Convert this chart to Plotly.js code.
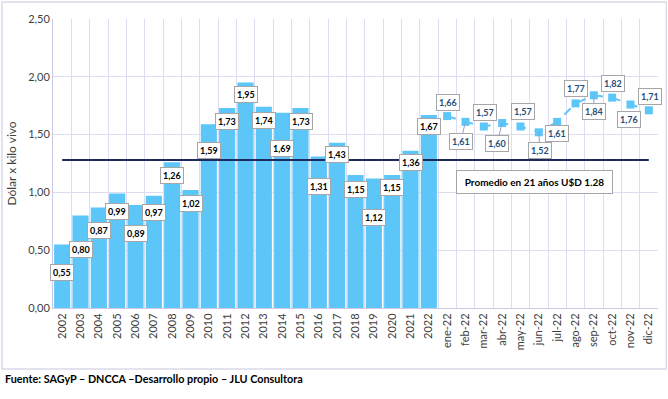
<!DOCTYPE html>
<html>
<head>
<meta charset="utf-8">
<script src="https://cdn.plot.ly/plotly-3.0.1.min.js"></script>
<style>html,body{margin:0;padding:0;background:#fff;}#chart{width:668px;height:399px;}</style>
</head>
<body>
<div id="chart"></div>
<script>
// ---- data ----
const years = ['2002','2003','2004','2005','2006','2007','2008','2009','2010','2011','2012','2013','2014','2015','2016','2017','2018','2019','2020','2021','2022'];
const yearValues = [0.55,0.80,0.87,0.99,0.89,0.97,1.26,1.02,1.59,1.73,1.95,1.74,1.69,1.73,1.31,1.43,1.15,1.12,1.15,1.36,1.67];
const months = ['ene-22','feb-22','mar-22','abr-22','may-22','jun-22','jul-22','ago-22','sep-22','oct-22','nov-22','dic-22'];
const monthValues = [1.66,1.61,1.57,1.60,1.57,1.52,1.61,1.77,1.84,1.82,1.76,1.71];
const average = 1.28;
const averageLabel = 'Promedio en 21 años U$D 1.28';
const yAxisTitle = 'Dólar x kilo vivo';
const sourceText = 'Fuente: SAGyP – DNCCA –Desarrollo propio – JLU Consultora';

// ---- label placement (pixels, positive = down) ----
const barLabelDy = [28,34,23,18,28,17,13,13,26,13,12,14,36,13,30,12,14,39,12,12,12];
const monthLabelDx = [1,-5,1,-5,2,1,0,0,0,1,-2,1];
const monthLabelDy = [-14,20,-14,20,-15,18,12,-15,16,-14,15,-14];
const monthLeader = [false,true,false,true,false,true,false,false,true,false,false,false];

const fmt = v => v.toFixed(2).replace('.', ',');
const allCats = years.concat(months);
const catIndex = c => allCats.indexOf(c);
const FONT = 'Lato, "Open Sans", sans-serif';

const barColor = '#5CC6F9';
const gridColor = '#DCDCF2';

const traces = [
  {
    type: 'bar', x: years, y: yearValues,
    marker: {color: barColor, line: {width: 0}},
    hoverinfo: 'x+y', showlegend: false
  },
  {
    type: 'scatter', mode: 'lines+markers', x: months, y: monthValues,
    line: {color: barColor, width: 2, dash: 'dash'},
    marker: {symbol: 'square', size: 8, color: barColor},
    showlegend: false
  },
  {
    type: 'scatter', mode: 'lines', x: [years[0], months[months.length-1]], y: [average, average],
    line: {color: '#1C2A5E', width: 2}, showlegend: false, hoverinfo: 'skip'
  }
];

const annotations = [];
years.forEach((c, i) => {
  annotations.push({
    x: catIndex(c), y: yearValues[i], xref: 'x', yref: 'y',
    text: '<b>' + fmt(yearValues[i]) + '</b>',
    showarrow: false, yshift: -barLabelDy[i],
    font: {family: FONT, size: 9, color: '#000'},
    bgcolor: '#fff', bordercolor: '#A6A6A6', borderwidth: 1, borderpad: 2
  });
});
months.forEach((c, i) => {
  const a = {
    x: catIndex(c), y: monthValues[i], xref: 'x', yref: 'y',
    text: '<b>' + fmt(monthValues[i]) + '</b>',
    font: {family: FONT, size: 9, color: '#1F4E79'},
    bgcolor: '#fff', bordercolor: '#A6A6A6', borderwidth: 1, borderpad: 2
  };
  if (monthLeader[i]) {
    a.showarrow = true; a.arrowhead = 0; a.arrowwidth = 1; a.arrowcolor = '#8FA3C8';
    a.ax = monthLabelDx[i]; a.ay = monthLabelDy[i]; a.standoff = 0;
  } else {
    a.showarrow = false; a.xshift = monthLabelDx[i]; a.yshift = -monthLabelDy[i];
  }
  annotations.push(a);
});
// average box
annotations.push({
  xref: 'paper', yref: 'paper', x: (534.5-53)/604.7, y: (308-181.5)/289,
  xanchor: 'center', yanchor: 'middle', showarrow: false,
  text: '<b>' + averageLabel + '</b>',
  font: {family: FONT, size: 10, color: '#000'},
  bgcolor: '#fff', bordercolor: '#A6A6A6', borderwidth: 1, borderpad: 5,
  width: 145, height: 12
});
// source footer
annotations.push({
  xref: 'paper', yref: 'paper', x: (3-53)/604.7, y: (308-378)/289,
  xanchor: 'left', yanchor: 'middle', showarrow: false,
  text: '<b>' + sourceText + '</b>',
  font: {family: FONT, size: 10.8, color: '#000'}
});

const layout = {
  width: 668, height: 399,
  margin: {l: 53, r: 10.3, t: 19, b: 91, pad: 0},
  paper_bgcolor: '#fff', plot_bgcolor: '#fff',
  separators: ',.',
  bargap: 0.12,
  font: {family: FONT, color: '#404040'},
  xaxis: {
    type: 'category', categoryorder: 'array', categoryarray: allCats,
    range: [-0.5, allCats.length - 0.5],
    tickson: 'boundaries', ticks: '', showgrid: true, gridcolor: gridColor, gridwidth: 1,
    showline: true, linecolor: '#C9C9E6', linewidth: 1,
    tickangle: -90, tickfont: {family: FONT, size: 11, color: '#404040'},
    fixedrange: true
  },
  yaxis: {
    range: [0, 2.5], dtick: 0.5, tickformat: '.2f',
    showgrid: true, gridcolor: gridColor, gridwidth: 1,
    showline: true, linecolor: '#C9C9E6', linewidth: 1, zeroline: false,
    ticks: '', tickfont: {family: FONT, size: 11, color: '#404040'},
    title: {text: yAxisTitle, font: {family: FONT, size: 12, color: '#404040'}, standoff: 8},
    fixedrange: true
  },
  shapes: [{
    type: 'rect', xref: 'paper', yref: 'paper',
    x0: (2-53)/604.7, x1: (666-53)/604.7, y0: (308-369)/289, y1: (308-2)/289,
    line: {color: '#DADAEA', width: 1.5}, layer: 'below'
  }],
  annotations: annotations,
  showlegend: false
};

Plotly.newPlot('chart', traces, layout, {displayModeBar: false, staticPlot: true});
</script>
</body>
</html>
